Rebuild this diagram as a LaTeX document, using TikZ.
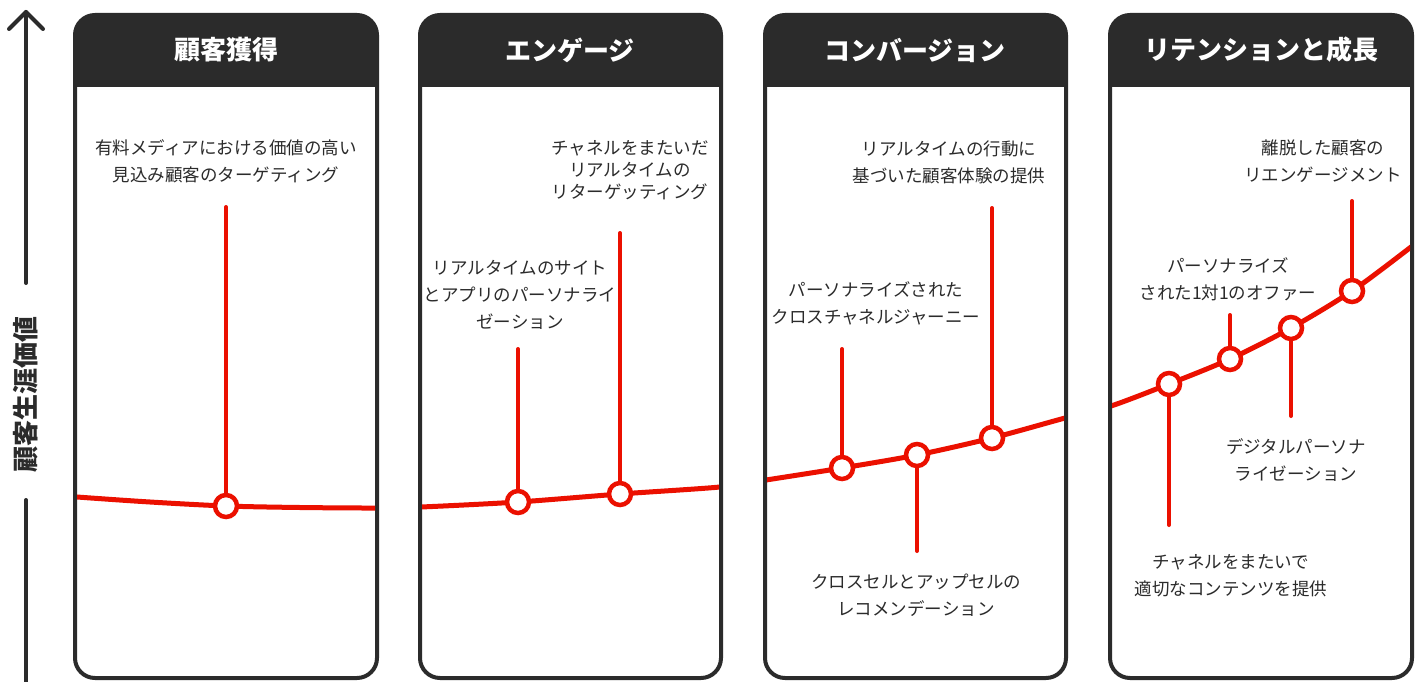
\documentclass[tikz,border=0pt]{standalone}
\usepackage{fontspec}
\newfontfamily\jp{Noto Sans CJK JP}
\definecolor{dark}{HTML}{2B2B2B}
\definecolor{jred}{HTML}{EB1000}
\tikzset{
  panelbox/.style={draw=dark, line width=4pt, rounded corners=20pt},
  lbl/.style={font=\jp\fontsize{17.5}{27}\selectfont, text=dark, align=center, inner sep=0pt},
  ttl/.style={font=\jp\bfseries\fontsize{26}{30}\selectfont, text=white, inner sep=0pt},
  axlbl/.style={font=\jp\bfseries\fontsize{26}{30}\selectfont, text=dark, inner sep=0pt, rotate=90},
  mk/.style={circle, draw=jred, fill=white, line width=4.5pt, minimum size=22pt, inner sep=0pt},
  stem/.style={draw=jred, line width=4pt, line cap=round},
  valcurve/.style={draw=jred, line width=5pt},
  axisline/.style={draw=dark, line width=4pt, line cap=round, line join=round}
}
\begin{document}
\begin{tikzpicture}[x=1pt, y=-1pt]
\useasboundingbox (0,0) rectangle (1421,682);
\fill[white] (0,0) rectangle (1421,682);

% panels
\foreach \xa/\xb in {75/377, 420/721, 765/1066, 1110/1412}{
  \begin{scope}
    \clip (\xa-5,0) rectangle (\xb+5,87);
    \fill[dark, rounded corners=20pt] (\xa,15) rectangle (\xb,678);
  \end{scope}
  \draw[panelbox] (\xa,15) rectangle (\xb,678);
}

% titles
\node[ttl] (t1) at (226,50) {顧客獲得};
\node[ttl] (t2) at (570,50) {エンゲージ};
\node[ttl] (t3) at (915,50) {コンバージョン};
\node[ttl] (t4) at (1261,50) {リテンションと成長};

% axis
\coordinate (axtop) at (26,12);
\coordinate (axa) at (26,283);
\coordinate (axb) at (26,500);
\coordinate (axbot) at (26,700);
\coordinate (axl) at (9,29);
\coordinate (axr) at (43,29);
\draw[axisline] (axa) -- (axtop);
\draw[axisline] (axl) -- (axtop) -- (axr);
\draw[axisline] (axb) -- (axbot);
\node[axlbl] (axt) at (26,394) {顧客生涯価値};

% value curve
\begin{scope}
  \clip (77,89) rectangle (375,676) (422,89) rectangle (719,676)
        (767,89) rectangle (1064,676) (1112,89) rectangle (1410,676);
  \draw[valcurve] plot[smooth, tension=0.5] coordinates {
    (40,494) (77,497) (150,502) (226,506) (300,507.5) (376,508) (421,507)
    (518,502) (620,494) (720,487) (766,480) (842,468) (917,455) (992,438)
    (1065,418) (1111,406) (1169,384) (1230,359) (1291,328) (1352,291)
    (1411,247) (1440,224)};
\end{scope}

% markers
\node[mk] (m1) at (226,506) {};
\node[mk] (m2) at (518,502) {};
\node[mk] (m3) at (620,494) {};
\node[mk] (m4) at (842,468) {};
\node[mk] (m5) at (917,455) {};
\node[mk] (m6) at (992,438) {};
\node[mk] (m7) at (1169,384) {};
\node[mk] (m8) at (1230,359) {};
\node[mk] (m9) at (1291,328) {};
\node[mk] (m10) at (1352,291) {};

% stem ends
\coordinate (e1) at (226,207);
\coordinate (e2) at (518,349);
\coordinate (e3) at (620,233);
\coordinate (e4) at (842,349);
\coordinate (e5) at (917,551);
\coordinate (e6) at (992,208);
\coordinate (e7) at (1169,525);
\coordinate (e8) at (1230,315);
\coordinate (e9) at (1291,416);
\coordinate (e10) at (1352,201);
\foreach \i in {1,...,10}{\draw[stem] (m\i) -- (e\i);}

% labels
\node[lbl] (l1) at (226,161.5) {有料メディアにおける価値の高い\\見込み顧客のターゲティング};
\node[lbl] (l2) at (520,295) {リアルタイムのサイト\\とアプリのパーソナライ\\ゼーション};
\node[lbl, font=\jp\fontsize{17.5}{22}\selectfont] (l3) at (630,170) {チャネルをまたいだ\\リアルタイムの\\リターゲッティング};
\node[lbl] (l4) at (949,162.5) {リアルタイムの行動に\\基づいた顧客体験の提供};
\node[lbl] (l5) at (876,303) {パーソナライズされた\\クロスチャネルジャーニー};
\node[lbl] (l6) at (916,595.5) {クロスセルとアップセルの\\レコメンデーション};
\node[lbl] (l7) at (1323,161) {離脱した顧客の\\リエンゲージメント};
\node[lbl] (l8) at (1228,279) {パーソナライズ\\された1対1のオファー};
\node[lbl] (l9) at (1296,460.5) {デジタルパーソナ\\ライゼーション};
\node[lbl] (l10) at (1231,575.5) {チャネルをまたいで\\適切なコンテンツを提供};
\end{tikzpicture}
\end{document}
